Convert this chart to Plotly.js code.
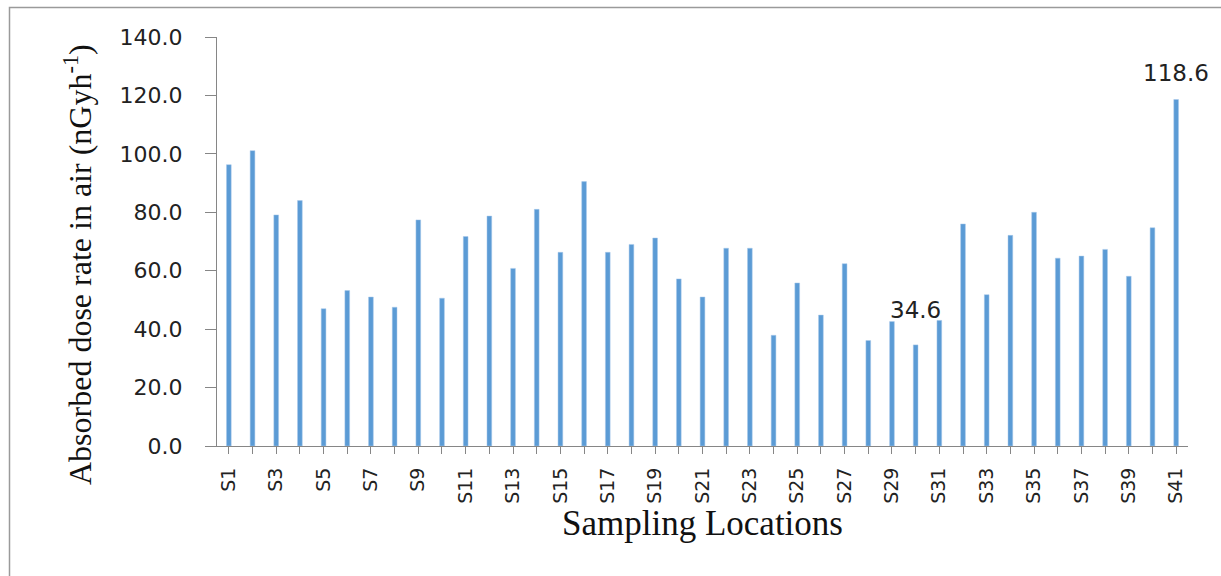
<!DOCTYPE html>
<html>
<head>
<meta charset="utf-8">
<script src="https://cdn.plot.ly/plotly-3.0.1.min.js"></script>
<style>
  html, body { margin: 0; padding: 0; background: #ffffff; }
  #chart { width: 1221px; height: 576px; }
</style>
</head>
<body>
<div id="chart"></div>
<script>
// Sampling locations
const locations = ["S1","S2","S3","S4","S5","S6","S7","S8","S9","S10",
  "S11","S12","S13","S14","S15","S16","S17","S18","S19","S20",
  "S21","S22","S23","S24","S25","S26","S27","S28","S29","S30",
  "S31","S32","S33","S34","S35","S36","S37","S38","S39","S40","S41"];

// Absorbed dose rate in air (nGy/h)
const doseRate = [96.3, 101.1, 79.1, 84.0, 47.0, 53.2, 51.0, 47.5, 77.4, 50.6,
  71.7, 78.7, 60.8, 81.0, 66.3, 90.5, 66.3, 69.0, 71.2, 57.2,
  51.0, 67.7, 67.7, 37.9, 55.8, 44.8, 62.4, 36.1, 42.6, 34.6,
  43.0, 76.0, 51.8, 72.1, 80.0, 64.3, 65.0, 67.3, 58.1, 74.7, 118.6];

// Labelled points
const labelledLocations = ["S30", "S41"];
const labelledShift = [35, 27];

// Tick labels: every other location
const tickLabels = locations.map((c, i) => (i % 2 === 0 ? c : ""));

const barColor = "#5B9BD5";
const axisColor = "#868686";

const trace = {
  type: "bar",
  x: locations,
  y: doseRate,
  width: 0.2,
  marker: { color: barColor, line: { color: "#a9c8ea", width: 0.5 } },
  hoverinfo: "x+y"
};

// outer frame (pixel positions converted to paper coords)
const L = 217, R = 33, T = 37, B = 130, W = 1221, H = 576;
const pw = W - L - R, ph = H - T - B;
const px = v => (v - L) / pw;
const py = v => (H - B - v) / ph;

const annotations = labelledLocations.map((loc, k) => {
  const v = doseRate[locations.indexOf(loc)];
  return {
    x: loc, y: v, xref: "x", yref: "y",
    text: v.toFixed(1), showarrow: false,
    yanchor: "middle", yshift: labelledShift[k],
    font: { family: "DejaVu Sans", size: 23, color: "#222222" }
  };
});

annotations.push({
  xref: "paper", yref: "paper",
  x: px(78), y: py(265),
  xanchor: "center", yanchor: "middle",
  textangle: -90, showarrow: false,
  text: "Absorbed dose rate in air (nGyh<sup>-1</sup>)",
  font: { family: "Liberation Serif", size: 32, color: "#111111" }
});

const layout = {
  width: W, height: H,
  margin: { l: L, r: R, t: T, b: B, pad: 0 },
  paper_bgcolor: "#ffffff",
  plot_bgcolor: "#ffffff",
  showlegend: false,
  font: { family: "DejaVu Sans", color: "#222222" },
  xaxis: {
    type: "category",
    range: [-0.5, locations.length - 0.5],
    tickmode: "array",
    tickvals: locations,
    ticktext: tickLabels,
    tickangle: -90,
    ticks: "outside",
    ticklen: 7,
    tickcolor: axisColor,
    showline: true,
    linecolor: axisColor,
    linewidth: 1,
    showgrid: false,
    zeroline: false,
    automargin: false,
    ticklabelstandoff: 6,
    tickfont: { family: "DejaVu Sans", size: 19, color: "#222222" },
    title: {
      text: "Sampling Locations",
      font: { family: "Liberation Serif", size: 35, color: "#111111" },
      standoff: 3
    }
  },
  yaxis: {
    range: [0, 140],
    dtick: 20,
    tick0: 0,
    tickformat: ".1f",
    ticks: "outside",
    ticklen: 11,
    tickcolor: axisColor,
    showline: true,
    linecolor: axisColor,
    linewidth: 1,
    showgrid: false,
    zeroline: false,
    automargin: false,
    ticklabelstandoff: 18,
    tickfont: { family: "DejaVu Sans", size: 22, color: "#222222" }
  },
  annotations: annotations,
  shapes: [
    {
      type: "path", xref: "paper", yref: "paper",
      path: `M ${px(9.5)} ${py(600)} L ${px(9.5)} ${py(7.5)} L ${px(1240)} ${py(7.5)}`,
      line: { color: "#9a9a9a", width: 1.5 }
    }
  ]
};

Plotly.newPlot("chart", [trace], layout, { displayModeBar: false, staticPlot: true });
</script>
</body>
</html>
